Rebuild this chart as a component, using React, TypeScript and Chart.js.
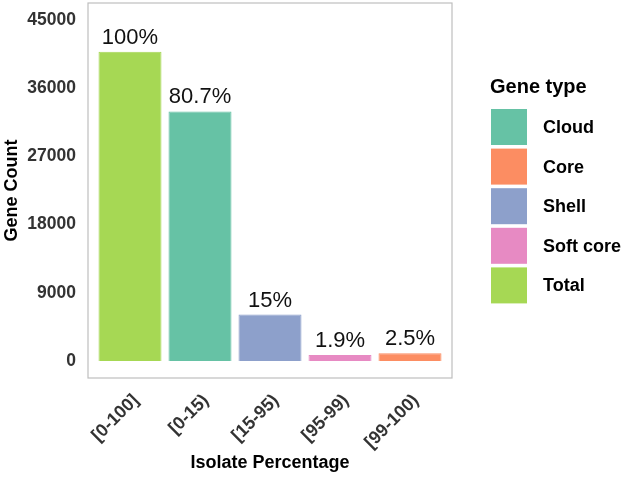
import React, { useEffect, useRef } from 'react';
import { Chart, registerables, Plugin } from 'chart.js';

Chart.register(...registerables);

// data
const categories = ['[0-100]', '[0-15)', '[15-95)', '[95-99)', '[99-100)'];
const geneTypes = ['Total', 'Cloud', 'Shell', 'Soft core', 'Core'];
const geneCounts = [40800, 32930, 6120, 780, 1020];
const percentLabels = ['100%', '80.7%', '15%', '1.9%', '2.5%'];
const yTicks = [0, 9000, 18000, 27000, 36000, 45000];

// legend order (alphabetical, as in the figure)
const legendTypes = ['Cloud', 'Core', 'Shell', 'Soft core', 'Total'];

const typeColors: Record<string, string> = {
  Cloud: '#66C2A5',
  Core: '#FC8D62',
  Shell: '#8DA0CB',
  'Soft core': '#E78AC3',
  Total: '#A6D854',
};

const FONT = '"Liberation Sans", Arial, sans-serif';

const panelBorder: Plugin<'bar'> = {
  id: 'panelBorder',
  afterDraw(chart) {
    const { ctx, chartArea } = chart;
    ctx.save();
    ctx.strokeStyle = '#BEBEBE';
    ctx.lineWidth = 1.2;
    ctx.strokeRect(chartArea.left, chartArea.top, chartArea.right - chartArea.left, chartArea.bottom - chartArea.top);
    ctx.restore();
  },
};

const barLabels: Plugin<'bar'> = {
  id: 'barLabels',
  afterDatasetsDraw(chart) {
    const { ctx } = chart;
    const meta = chart.getDatasetMeta(0);
    ctx.save();
    ctx.font = `22px ${FONT}`;
    ctx.fillStyle = '#111';
    ctx.textAlign = 'center';
    ctx.textBaseline = 'alphabetic';
    meta.data.forEach((bar, i) => {
      ctx.fillText(percentLabels[i], bar.x, bar.y - 8);
    });
    ctx.restore();
  },
};

const sideLegend: Plugin<'bar'> = {
  id: 'sideLegend',
  afterDraw(chart) {
    const { ctx, chartArea } = chart;
    const x0 = chartArea.right + 39;
    ctx.save();
    ctx.fillStyle = '#000';
    ctx.textAlign = 'left';
    ctx.textBaseline = 'alphabetic';
    ctx.font = `bold 20px ${FONT}`;
    ctx.fillText('Gene type', x0 - 1, 93);
    ctx.font = `bold 18px ${FONT}`;
    ctx.textBaseline = 'middle';
    legendTypes.forEach((t, i) => {
      const top = 109 + i * 39.6;
      ctx.fillStyle = typeColors[t];
      ctx.fillRect(x0, top, 36, 36);
      ctx.fillStyle = '#000';
      ctx.fillText(t, x0 + 52, top + 19);
    });
    ctx.restore();
  },
};

const App: React.FC = () => {
  const chartRef = useRef<HTMLCanvasElement | null>(null);
  const chartInstance = useRef<Chart | null>(null);

  useEffect(() => {
    if (!chartRef.current) return;
    if (chartInstance.current) {
      chartInstance.current.destroy();
    }
    const ctx = chartRef.current.getContext('2d');
    if (!ctx) return;

    const colors = geneTypes.map((t) => typeColors[t]);

    chartInstance.current = new Chart(ctx, {
      type: 'bar',
      data: {
        datasets: [
          {
            label: 'Gene Count',
            data: geneCounts.map((v, i) => ({ x: i + 1, y: v })),
            backgroundColor: colors,
            borderColor: colors,
            borderWidth: 1,
            categoryPercentage: 1,
            barPercentage: 0.9,
          },
        ],
      },
      options: {
        animation: false,
        responsive: true,
        maintainAspectRatio: false,
        layout: { padding: { top: 3, right: 172, bottom: 0, left: 0 } },
        plugins: {
          legend: { display: false },
          tooltip: { enabled: false },
        },
        scales: {
          x: {
            type: 'linear',
            offset: false,
            min: 0.4,
            max: 5.6,
            grid: { display: false, drawTicks: false },
            border: { display: false },
            afterBuildTicks: (scale) => {
              scale.ticks = categories.map((_, i) => ({ value: i + 1 }));
            },
            afterFit: (scale) => {
              scale.height = 99;
              scale.paddingLeft = 0;
              scale.paddingRight = 0;
            },
            ticks: {
              autoSkip: false,
              minRotation: 45,
              maxRotation: 45,
              padding: 12,
              labelOffset: 6,
              color: '#333',
              font: { family: FONT, size: 18, weight: 'bold' },
              callback: (value) => categories[Number(value) - 1] ?? '',
            },
            title: {
              display: true,
              text: 'Isolate Percentage',
              color: '#000',
              padding: { top: 4, bottom: 3 },
              font: { family: FONT, size: 18, weight: 'bold' },
            },
          },
          y: {
            min: -2250,
            max: 47250,
            grid: { display: false, drawTicks: false },
            border: { display: false },
            afterBuildTicks: (scale) => {
              scale.ticks = yTicks.map((v) => ({ value: v }));
            },
            afterFit: (scale) => {
              scale.width = 88;
              scale.paddingTop = 0;
              scale.paddingBottom = 0;
            },
            ticks: {
              padding: 12,
              color: '#333',
              font: { family: FONT, size: 17.5, weight: 'bold' },
              callback: (value) => String(value),
            },
            title: {
              display: true,
              text: 'Gene Count',
              color: '#000',
              padding: { top: 1, bottom: 0 },
              font: { family: FONT, size: 18, weight: 'bold' },
            },
          },
        },
      },
      plugins: [panelBorder, barLabels, sideLegend],
    });

    return () => {
      if (chartInstance.current) {
        chartInstance.current.destroy();
        chartInstance.current = null;
      }
    };
  }, []);

  return (
    <div style={{ position: 'absolute', left: 0, top: 0, width: 624, height: 477, background: '#fff' }}>
      <canvas ref={chartRef} />
    </div>
  );
};

export default App;
